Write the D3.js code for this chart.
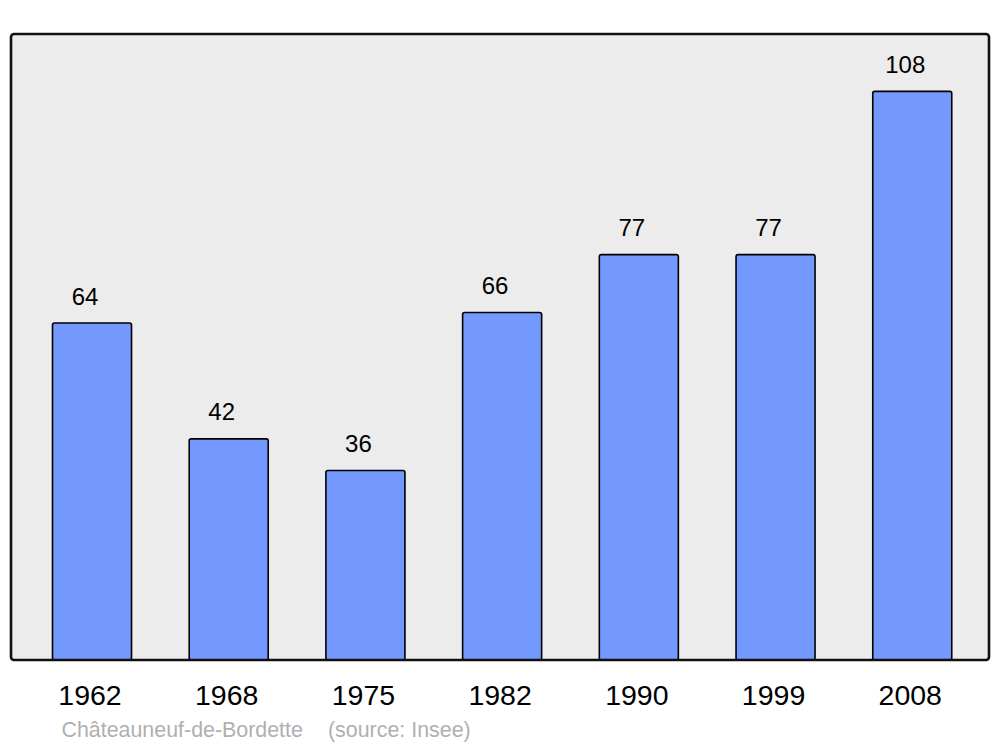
<!DOCTYPE html>
<html>
<head>
<meta charset="utf-8">
<script src="https://cdn.jsdelivr.net/npm/d3@7"></script>
<style>
  html, body { margin: 0; padding: 0; background: #ffffff; }
  svg { display: block; font-family: "Liberation Sans", Arial, sans-serif; }
</style>
</head>
<body>
<svg id="chart" width="1000" height="747"></svg>
<script>
const years = ["1962", "1968", "1975", "1982", "1990", "1999", "2008"];
const population = [64, 42, 36, 66, 77, 77, 108];
const sourceText = ["Châteauneuf-de-Bordette", "(source: Insee)"];

const svg = d3.select("#chart");
const frame = { left: 11, right: 989, top: 34, bottom: 660 };

const x = d3.scaleBand()
  .domain(years)
  .range([frame.left, frame.right])
  .paddingInner(0.422)
  .paddingOuter(0.288)
  .align(0.527);

const y = d3.scaleLinear()
  .domain([0, 118.9])
  .range([frame.bottom, frame.top]);

// background frame
svg.append("rect")
  .attr("x", frame.left)
  .attr("y", frame.top)
  .attr("width", frame.right - frame.left)
  .attr("height", frame.bottom - frame.top)
  .attr("rx", 3).attr("ry", 3)
  .attr("fill", "#ececec");

const data = years.map((yr, i) => ({ year: yr, value: population[i] }));

svg.append("g").selectAll("rect")
  .data(data)
  .join("rect")
  .attr("x", d => x(d.year))
  .attr("y", d => y(d.value))
  .attr("width", x.bandwidth())
  .attr("height", d => y(0) - y(d.value))
  .attr("rx", 2).attr("ry", 2)
  .attr("fill", "#7399ff")
  .attr("stroke", "#000")
  .attr("stroke-width", 1.6);

// value labels
svg.append("g").selectAll("text")
  .data(data)
  .join("text")
  .attr("x", d => x(d.year) + x.bandwidth() / 2 - 7)
  .attr("y", d => y(d.value) - 18.5)
  .attr("text-anchor", "middle")
  .attr("font-size", 24)
  .attr("fill", "#000")
  .text(d => d.value);

// frame border on top
svg.append("rect")
  .attr("x", frame.left)
  .attr("y", frame.top)
  .attr("width", frame.right - frame.left)
  .attr("height", frame.bottom - frame.top)
  .attr("rx", 3).attr("ry", 3)
  .attr("fill", "none")
  .attr("stroke", "#111")
  .attr("stroke-width", 2.6);

// x axis labels
const xAxis = d3.axisBottom(x).tickSize(0).tickPadding(0);
const gx = svg.append("g")
  .attr("transform", `translate(-2, ${frame.bottom})`)
  .call(xAxis);
gx.select(".domain").remove();
gx.selectAll("text")
  .attr("dy", null)
  .attr("y", 45)
  .attr("font-size", 28.5)
  .attr("font-family", "Liberation Sans, Arial, sans-serif")
  .attr("fill", "#000");

// source line
svg.append("text")
  .attr("x", 61.5)
  .attr("y", 737)
  .attr("font-size", 21.4)
  .attr("fill", "#b0b0b0")
  .text(sourceText[0]);
svg.append("text")
  .attr("x", 328)
  .attr("y", 737)
  .attr("font-size", 21.4)
  .attr("fill", "#b0b0b0")
  .text(sourceText[1]);
</script>
</body>
</html>
